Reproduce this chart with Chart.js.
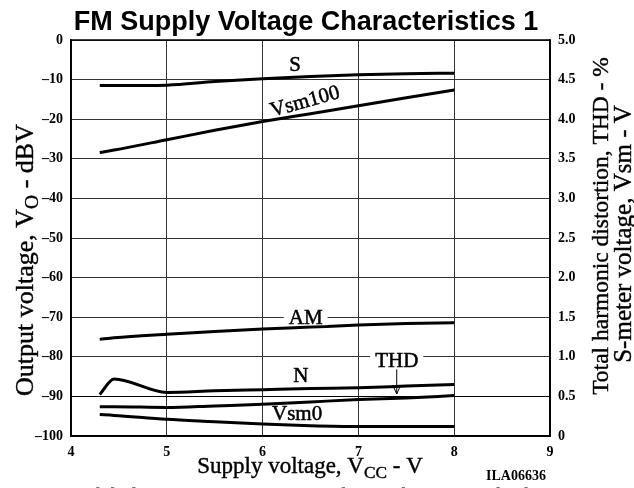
<!DOCTYPE html>
<html>
<head>
<meta charset="utf-8">
<script src="https://cdn.jsdelivr.net/npm/chart.js@4.4.1/dist/chart.umd.min.js"></script>
<style>
  body { margin: 0; background: #fff; }
  #wrap { width: 634px; height: 488px; position: relative; overflow: hidden; }
</style>
</head>
<body>
<div id="wrap"><canvas id="myChart" width="634" height="488"></canvas></div>
<script>
// supply voltage points (V)
var vcc = [4.3, 4.45, 5, 5.5, 6, 6.5, 7, 7.5, 8];

// left axis, output voltage in dBV
var sOut  = [-11.5, -11.5, -11.4, -10.5, -9.8, -9.2, -8.8, -8.5, -8.4];
var amOut = [-75.6, -75.2, -74.3, -73.6, -73.0, -72.5, -72.0, -71.6, -71.4];
var nOut  = [-89.5, -85.6, -89.0, -88.6, -88.3, -88.0, -87.8, -87.4, -87.0];

// right axis, THD in % and S-meter voltage in V
var thd    = [0.37, 0.37, 0.36, 0.38, 0.40, 0.43, 0.46, 0.48, 0.51];
var vsm100 = [3.58, 3.61, 3.74, 3.86, 3.97, 4.07, 4.17, 4.27, 4.37];
var vsm0   = [0.27, 0.26, 0.21, 0.18, 0.15, 0.13, 0.12, 0.12, 0.12];

var xTicks = [4, 5, 6, 7, 8, 9];

function pts(ys) {
  return vcc.map(function (v, i) { return {x: v, y: ys[i]}; });
}

function line(label, ys, axis) {
  return {
    label: label,
    data: pts(ys),
    yAxisID: axis,
    borderColor: "#000",
    borderWidth: 3,
    pointRadius: 0,
    fill: false,
    cubicInterpolationMode: "monotone"
  };
}

var serif = "'Liberation Serif', 'Times New Roman', serif";
var sans = "'Liberation Sans', Arial, sans-serif";

// text with subscript parts, centred on (x, y), optionally rotated
function richText(ctx, parts, x, y, size, rot) {
  ctx.save();
  ctx.translate(x, y);
  ctx.rotate(rot || 0);
  ctx.textBaseline = "alphabetic";
  ctx.textAlign = "left";
  ctx.strokeStyle = "#000";
  ctx.lineWidth = 0.4;
  var w = 0;
  parts.forEach(function (p) {
    ctx.font = (p.sub ? size * 0.75 : size) + "px " + serif;
    w += ctx.measureText(p.t).width;
  });
  var cx = -w / 2;
  parts.forEach(function (p) {
    ctx.font = (p.sub ? size * 0.75 : size) + "px " + serif;
    var by = p.sub ? size * 0.55 : size * 0.35;
    ctx.fillText(p.t, cx, by);
    ctx.strokeText(p.t, cx, by);
    cx += ctx.measureText(p.t).width;
  });
  ctx.restore();
}

// curve names placed at data coordinates
var curveLabels = [
  {t: "S", x: 6.34, y: -6.1, bg: false, rot: 0},
  {t: "Vsm100", x: 6.44, y: -15.4, bg: false, rot: -0.27},
  {t: "AM", x: 6.45, y: -70, bg: true, rot: 0},
  {t: "N", x: 6.4, y: -84.6, bg: false, rot: 0},
  {t: "THD", x: 7.4, y: -80.9, bg: true, rot: 0},
  {t: "Vsm0", x: 6.36, y: -94.4, bg: false, rot: 0}
];

var decorations = {
  id: "decorations",
  afterDatasetsDraw: function (chart) {
    var ctx = chart.ctx, xs = chart.scales.x, ys = chart.scales.y;
    ctx.save();
    ctx.font = "21px " + serif;
    ctx.textAlign = "center";
    ctx.textBaseline = "middle";
    ctx.lineWidth = 0.5;
    ctx.strokeStyle = "#000";
    curveLabels.forEach(function (l) {
      var px = xs.getPixelForValue(l.x), py = ys.getPixelForValue(l.y);
      ctx.save();
      ctx.translate(px, py);
      ctx.rotate(l.rot);
      if (l.bg) {
        var w = ctx.measureText(l.t).width;
        ctx.fillStyle = "#fff";
        ctx.fillRect(-w / 2 - 5, -8, w + 10, 16);
      }
      ctx.fillStyle = "#000";
      ctx.fillText(l.t, 0, 1);
      ctx.strokeText(l.t, 0, 1);
      ctx.restore();
    });

    // arrow from THD label down to its curve
    var ax = xs.getPixelForValue(7.4);
    var a0 = ys.getPixelForValue(-83.2), a1 = ys.getPixelForValue(-89.4);
    ctx.strokeStyle = "#000";
    ctx.lineWidth = 1;
    ctx.beginPath();
    ctx.moveTo(ax, a0); ctx.lineTo(ax, a1);
    ctx.moveTo(ax - 4, a1 - 9); ctx.lineTo(ax, a1); ctx.lineTo(ax + 4, a1 - 9);
    ctx.stroke();

    // plot frame
    var ca = chart.chartArea;
    ctx.lineWidth = 1.5;
    ctx.strokeRect(ca.left, ca.top, ca.right - ca.left, ca.bottom - ca.top);
    ctx.restore();
  },
  afterDraw: function (chart) {
    var ctx = chart.ctx;
    ctx.save();
    ctx.fillStyle = "#000";

    ctx.font = "bold 27px " + sans;
    ctx.textAlign = "center";
    ctx.textBaseline = "alphabetic";
    ctx.fillText("FM Supply Voltage Characteristics 1", 306, 30);

    richText(ctx, [{t: "Output voltage, V"}, {t: "O", sub: true}, {t: " - dBV"}], 24, 260, 26, -Math.PI / 2);
    richText(ctx, [{t: "Total harmonic distortion, THD - %"}], 600, 226, 23.5, -Math.PI / 2);
    richText(ctx, [{t: "S-meter voltage, Vsm - V"}], 622, 234, 25, -Math.PI / 2);
    richText(ctx, [{t: "Supply voltage, V"}, {t: "CC", sub: true}, {t: " - V"}], 310, 465, 23, 0);

    ctx.font = "bold 14px " + serif;
    ctx.textAlign = "left";
    ctx.fillText("ILA06636", 486, 480);

    // heading of the next figure, cut by the page edge
    ctx.fillStyle = "#777";
    ctx.font = "bold 24px " + sans;
    ctx.textAlign = "center";
    ctx.fillText("Multiplex Stereo Separation Characteristics", 308, 505);
    ctx.restore();
  }
};

var tickFont = {family: serif, size: 14, weight: "bold"};

new Chart("myChart", {
  type: "line",
  data: {
    datasets: [
      line("S", sOut, "y"),
      line("Vsm100", vsm100, "y2"),
      line("AM", amOut, "y"),
      line("N", nOut, "y"),
      line("THD", thd, "y2"),
      line("Vsm0", vsm0, "y2")
    ]
  },
  options: {
    responsive: false,
    animation: false,
    devicePixelRatio: 1,
    layout: {padding: {top: 40, left: 0, right: 0, bottom: 0}},
    plugins: {legend: {display: false}, title: {display: false}, tooltip: {enabled: false}},
    scales: {
      x: {
        type: "linear",
        min: 4, max: 9,
        afterBuildTicks: function (s) { s.ticks = xTicks.map(function (v) { return {value: v}; }); },
        afterFit: function (s) { s.height = 52; },
        grid: {color: "#333", lineWidth: 1, drawTicks: false},
        border: {color: "#000", width: 1.5},
        ticks: {color: "#000", font: tickFont, padding: 8}
      },
      y: {
        position: "left",
        min: -100, max: 0,
        afterFit: function (s) { s.width = 71; },
        grid: {
          color: function (c) { return c.tick && c.tick.value === -90 ? "#000" : "#333"; },
          lineWidth: 1, drawTicks: false
        },
        border: {color: "#000", width: 1.5},
        ticks: {
          stepSize: 10, color: "#000", font: tickFont, padding: 8,
          callback: function (v) { return v < 0 ? "\u2013" + (-v) : String(v); }
        }
      },
      y2: {
        position: "right",
        min: 0, max: 5,
        afterFit: function (s) { s.width = 84; },
        grid: {display: false, drawTicks: false},
        border: {color: "#000", width: 1.5},
        ticks: {
          stepSize: 0.5, color: "#000", font: tickFont, padding: 8,
          callback: function (v) { return v === 0 ? "0" : v.toFixed(1); }
        }
      }
    }
  },
  plugins: [decorations]
});
</script>
</body>
</html>
